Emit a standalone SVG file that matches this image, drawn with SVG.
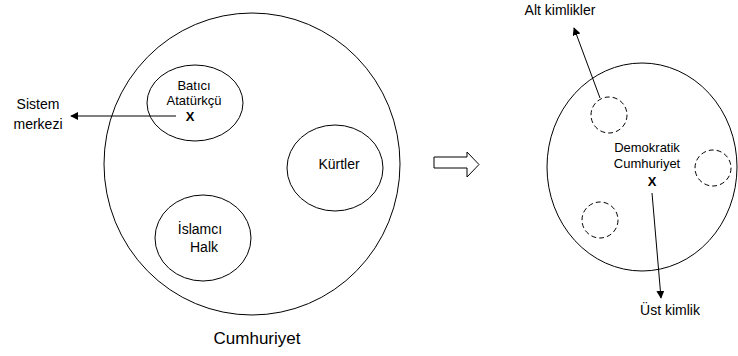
<svg xmlns="http://www.w3.org/2000/svg" width="738" height="356" viewBox="0 0 738 356">
<defs>
<style>
.c{fill:none;stroke:#000;stroke-width:1}
.d{fill:none;stroke:#000;stroke-width:1;stroke-dasharray:5 3}
.t{font-family:"Liberation Sans",Arial,sans-serif;font-size:13px;fill:#000;text-anchor:middle}
.tm{font-family:"Liberation Sans",Arial,sans-serif;font-size:14px;fill:#000;text-anchor:middle}
.tl{font-family:"Liberation Sans",Arial,sans-serif;font-size:14px;fill:#000;text-anchor:middle}
.x{font-family:"Liberation Sans",Arial,sans-serif;font-size:13px;font-weight:bold;fill:#000;text-anchor:middle}
.l{fill:none;stroke:#000;stroke-width:1}
</style>
<marker id="ah" viewBox="0 0 10 10" refX="9" refY="5" markerWidth="8" markerHeight="8" markerUnits="userSpaceOnUse" orient="auto">
<path d="M0,0 L10,5 L0,10 z" fill="#000"/>
</marker>
</defs>
<rect width="738" height="356" fill="#fff"/>
<g id="cumhuriyet">
<ellipse class="c" cx="252" cy="164" rx="148" ry="151"/>
<text class="tl" x="257" y="344" style="font-size:17px">Cumhuriyet</text>
</g>
<g id="batici">
<ellipse class="c" cx="195" cy="103" rx="48" ry="38"/>
<text class="t" x="194" y="90">Batıcı</text>
<text class="t" x="194" y="105">Atatürkçü</text>
<text class="x" x="190" y="121">X</text>
</g>
<g id="kurtler">
<ellipse class="c" cx="335" cy="168" rx="48" ry="43"/>
<text class="tm" x="339" y="169">Kürtler</text>
</g>
<g id="islamci">
<ellipse class="c" cx="203" cy="238" rx="48" ry="43"/>
<text class="tm" x="200" y="234">İslamcı</text>
<text class="tm" x="204" y="252">Halk</text>
</g>
<g id="sistem">
<text class="tl" x="38" y="109">Sistem</text>
<text class="tl" x="38" y="129">merkezi</text>
</g>
<g id="blockarrow">
<path class="c" d="M434,157 L467,157 L467,152 L479,164.5 L467,177 L467,168 L434,168 Z"/>
</g>
<g id="demokratik">
<ellipse class="c" cx="642" cy="167" rx="95" ry="104"/>
<text class="t" x="647" y="152">Demokratik</text>
<text class="t" x="647" y="168">Cumhuriyet</text>
<text class="x" x="652" y="186">X</text>
</g>
<g id="alt1"><circle class="d" cx="609" cy="115" r="18"/></g>
<g id="alt2"><circle class="d" cx="713" cy="168" r="18"/></g>
<g id="alt3"><circle class="d" cx="600" cy="220" r="18"/></g>
<g id="altlabel"><text class="tl" x="560" y="15">Alt kimlikler</text></g>
<g id="ustlabel"><text class="tl" x="670" y="315">Üst kimlik</text></g>
<g id="connectors">
<line class="l" x1="176" y1="116" x2="71" y2="116" marker-end="url(#ah)"/>
<line class="l" x1="600" y1="98" x2="574" y2="28" marker-end="url(#ah)"/>
<line class="l" x1="652" y1="193" x2="661" y2="298" marker-end="url(#ah)"/>
</g>
</svg>
